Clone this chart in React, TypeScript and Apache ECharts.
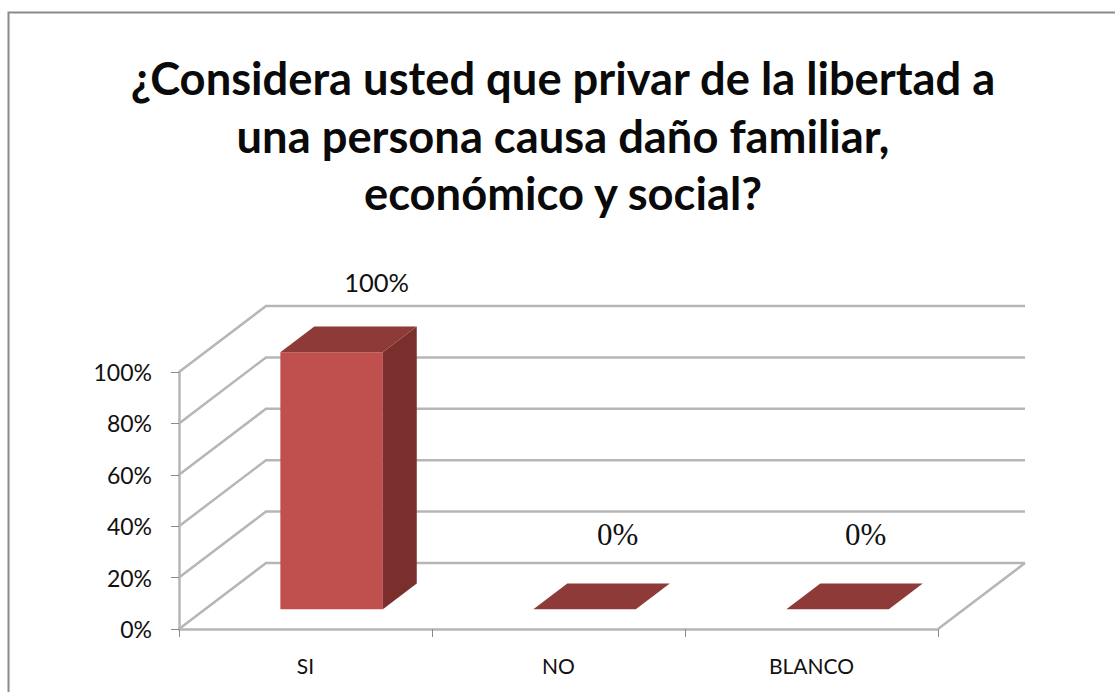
import React, { useEffect, useRef } from "react";
import * as echarts from "echarts";

const titleText = "¿Considera usted que privar de la libertad a\nuna persona causa daño familiar,\neconómico y social?";
const categories = ["SI", "NO", "BLANCO"];
const values = [100, 0, 0];
const valueLabels = ["100%", "0%", "0%"];
const wallTicks = [0, 20, 40, 60, 80, 100];

const SANS = "Lato, 'Open Sans', sans-serif";
const SERIF = "'Liberation Serif', 'Times New Roman', serif";
const LINE = "#b6b6b6";

// projection of the chart's floor
const DEPTH_X = 87;
const DEPTH_Y = 66;
const BAR_WIDTH_RATIO = 0.405;
const BAR_FRONT = 0.3; // share of depth in front of the bar
const BAR_DEPTH = 0.39; // share of depth used by the bar
// manual label placement (offset from bar's front-top centre)
const LABEL_OFFSETS = [[45, -70], [33, -75], [28, -75]];
const LABEL_FONTS = [SANS, SERIF, SERIF];
const LABEL_SIZES = [25.5, 31, 31];

function renderWall(params: any, api: any) {
  const cs = params.coordSys;
  const y = api.coord([0, api.value(0)])[1];
  const children: any[] = [
    {
      type: "polyline",
      shape: { points: [[cs.x, y], [cs.x + DEPTH_X, y - DEPTH_Y], [cs.x + cs.width + DEPTH_X, y - DEPTH_Y]] },
      style: { fill: "none", stroke: LINE, lineWidth: 2.5 },
    },
  ];
  if (api.value(0) === 0) {
    children.push({
      type: "line",
      shape: { x1: cs.x + cs.width, y1: y, x2: cs.x + cs.width + DEPTH_X, y2: y - DEPTH_Y },
      style: { stroke: LINE, lineWidth: 2.5 },
    });
  }
  return { type: "group", children };
}

function renderBar(params: any, api: any) {
  const i = api.value(0);
  const top = api.coord([i, api.value(1)]);
  const base = api.coord([i, 0]);
  const w = api.size([1, 0])[0] * BAR_WIDTH_RATIO;
  const fx = DEPTH_X * BAR_FRONT;
  const fy = DEPTH_Y * BAR_FRONT;
  const dx = DEPTH_X * BAR_DEPTH;
  const dy = DEPTH_Y * BAR_DEPTH;
  const x0 = top[0] + fx - w / 2;
  const x1 = x0 + w;
  const yT = top[1] - fy;
  const yB = base[1] - fy;
  const children: any[] = [];
  if (yB - yT > 0.5) {
    children.push(
      { type: "rect", shape: { x: x0, y: yT, width: w, height: yB - yT }, style: { fill: "#c0504d" } },
      { type: "polygon", shape: { points: [[x1, yT], [x1 + dx, yT - dy], [x1 + dx, yB - dy], [x1, yB]] }, style: { fill: "#7b2f2d" } }
    );
  }
  children.push({
    type: "polygon",
    shape: { points: [[x0, yT], [x1, yT], [x1 + dx, yT - dy], [x0 + dx, yT - dy]] },
    style: { fill: "#8e3a38" },
  });
  const off = LABEL_OFFSETS[i];
  children.push({
    type: "text",
    x: top[0] + fx + off[0],
    y: yT + off[1],
    style: {
      text: valueLabels[i],
      fontFamily: LABEL_FONTS[i],
      fontSize: LABEL_SIZES[i],
      fontWeight: "normal",
      fill: "#111",
      align: "center",
      verticalAlign: "middle",
    },
  });
  return { type: "group", children };
}

export default function App() {
  const ref = useRef<HTMLDivElement>(null);
  useEffect(() => {
    const chart = echarts.init(ref.current!, null, { renderer: "svg" });
    chart.setOption({
      animation: false,
      backgroundColor: "#ffffff",
      title: {
        text: titleText,
        left: 558,
        top: 44,
        textAlign: "center",
        textStyle: { fontFamily: SANS, fontSize: 45.3, fontWeight: "bold", color: "#0a0a0a", lineHeight: 57.5, align: "center" },
      },
      graphic: [
        {
          type: "polyline",
          silent: true,
          shape: { points: [[8.5, 700], [8.5, 12.5], [1120, 12.5]] },
          style: { fill: "none", stroke: "#8a8a8a", lineWidth: 2 },
        },
      ],
      grid: { left: 179, right: 177, top: 372, bottom: 63 },
      xAxis: {
        type: "category",
        data: categories,
        boundaryGap: true,
        axisLine: { show: true, lineStyle: { color: LINE, width: 2.5 } },
        axisTick: { show: true, length: 8, lineStyle: { color: "#8a8a8a", width: 1 } },
        axisLabel: { fontFamily: SANS, fontSize: 21, color: "#111", margin: 26 },
      },
      yAxis: {
        type: "value",
        min: 0,
        max: 100,
        interval: 20,
        axisLine: { show: true, lineStyle: { color: LINE, width: 2.5 } },
        axisTick: { show: true, length: 8, lineStyle: { color: "#8a8a8a", width: 1 } },
        axisLabel: { fontFamily: SANS, fontSize: 23, color: "#111", margin: 27, formatter: "{value}%" },
        splitLine: { show: false },
      },
      series: [
        {
          type: "custom",
          name: "walls",
          silent: true,
          clip: false,
          z: 1,
          data: wallTicks.map((v) => [v]),
          encode: { y: 0 },
          renderItem: renderWall,
        },
        {
          type: "custom",
          name: "bars",
          silent: true,
          clip: false,
          z: 3,
          data: values.map((v, i) => [i, v]),
          encode: { x: 0, y: 1 },
          renderItem: renderBar,
        },
      ],
    });
    return () => chart.dispose();
  }, []);
  return <div ref={ref} style={{ position: "fixed", left: 0, top: 0, width: 1115, height: 692 }} />;
}
